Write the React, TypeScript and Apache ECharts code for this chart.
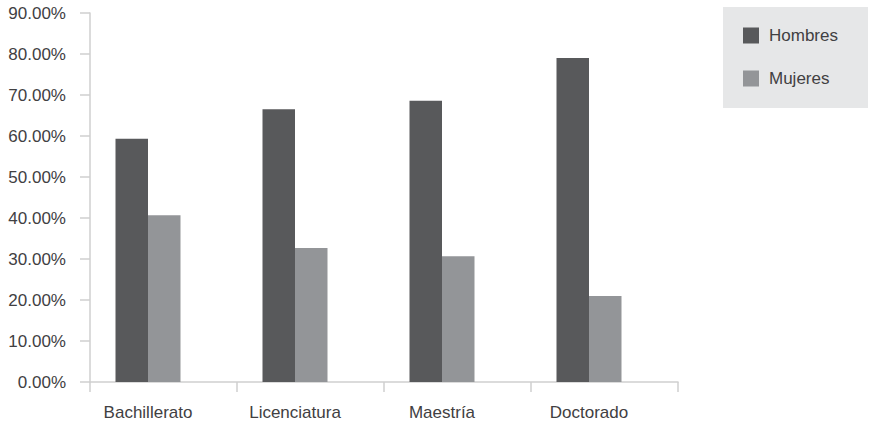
import React, { useEffect, useRef } from "react";
import * as echarts from "echarts";

const categories = ["Bachillerato", "Licenciatura", "Maestría", "Doctorado"];
const hombres = [59.3, 66.5, 68.6, 79.0];
const mujeres = [40.7, 32.7, 30.7, 21.0];
const seriesNames = ["Hombres", "Mujeres"];

const FONT = "'Liberation Sans', Arial, Helvetica, sans-serif";
const TEXT = "#414042";
const AXIS = "#cfcfcf";

export default function App() {
  const ref = useRef<HTMLDivElement>(null);
  useEffect(() => {
    if (!ref.current) return;
    const chart = echarts.init(ref.current, null, { renderer: "svg" });
    chart.setOption({
      animation: false,
      backgroundColor: "#ffffff",
      textStyle: { fontFamily: FONT },
      grid: [
        { left: 90, right: 192, top: 13, bottom: 43 },
        { left: 74.5, right: 207.5, top: 13, bottom: 43 },
      ],
      graphic: [
        {
          type: "rect",
          shape: { x: 723, y: 7, width: 145, height: 101 },
          style: { fill: "#e6e7e8" },
          z: -1,
        },
      ],
      legend: {
        orient: "vertical",
        left: 743,
        top: 27,
        padding: 0,
        itemWidth: 16,
        itemHeight: 16,
        itemGap: 26,
        icon: "rect",
        data: seriesNames,
        textStyle: { fontFamily: FONT, fontSize: 17, color: TEXT, lineHeight: 16, padding: [0, 0, 0, 5] },
      },
      xAxis: [
        {
          type: "category",
          gridIndex: 0,
          data: categories,
          axisLine: { show: true, lineStyle: { color: AXIS, width: 1.5 } },
          axisTick: { show: true, length: 10, lineStyle: { color: AXIS, width: 1.5 } },
          axisLabel: { show: false },
        },
        {
          type: "category",
          gridIndex: 1,
          data: categories,
          axisLine: { show: false },
          axisTick: { show: false },
          axisLabel: { show: true, margin: 22, fontSize: 17, color: TEXT, fontFamily: FONT },
        },
      ],
      yAxis: [
        {
          type: "value",
          gridIndex: 0,
          min: 0,
          max: 90,
          interval: 10,
          splitLine: { show: false },
          axisLine: { show: true, lineStyle: { color: AXIS, width: 1.5 } },
          axisTick: { show: true, length: 10, lineStyle: { color: AXIS, width: 1.5 } },
          axisLabel: {
            margin: 24,
            fontSize: 17,
            color: TEXT,
            fontFamily: FONT,
            formatter: (v: number) => v.toFixed(2) + "%",
          },
        },
        {
          type: "value",
          gridIndex: 1,
          min: 0,
          max: 90,
          interval: 10,
          show: false,
          splitLine: { show: false },
        },
      ],
      series: [
        {
          name: seriesNames[0],
          type: "bar",
          xAxisIndex: 1,
          yAxisIndex: 1,
          data: hombres,
          barWidth: 32.5,
          barGap: "0%",
          itemStyle: { color: "#58595b" },
        },
        {
          name: seriesNames[1],
          type: "bar",
          xAxisIndex: 1,
          yAxisIndex: 1,
          data: mujeres,
          barWidth: 32.5,
          barGap: "0%",
          itemStyle: { color: "#939598" },
        },
      ],
    });
    return () => chart.dispose();
  }, []);
  return (
    <div
      ref={ref}
      style={{ position: "fixed", left: 0, top: 0, width: 870, height: 425 }}
    />
  );
}
